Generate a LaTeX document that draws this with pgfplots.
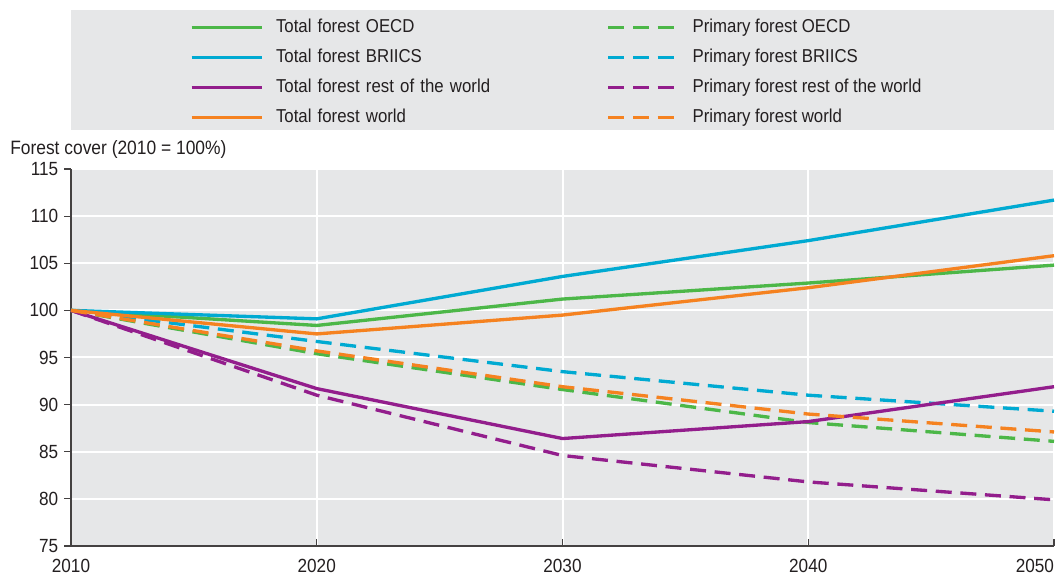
\documentclass[border=0pt]{standalone}
\usepackage{fontspec}
\setmainfont{Liberation Sans}[FakeStretch=0.9]
\usepackage{pgfplots}
\pgfplotsset{compat=1.18}

\definecolor{bgc}{HTML}{E6E7E8}
\definecolor{cgreen}{HTML}{4CB748}
\definecolor{cblue}{HTML}{00AAD2}
\definecolor{cpurple}{HTML}{931E8C}
\definecolor{corange}{HTML}{F58220}
\definecolor{txt}{HTML}{231F20}

\begin{document}
\begin{tikzpicture}[x=1pt,y=1pt]
\begin{axis}[
  scale only axis,
  width=737.25pt, height=282.75pt,
  xmin=2010, xmax=2050, ymin=75, ymax=115,
  xtick={2010,2020,2030,2040,2050},
  ytick={75,80,...,115},
  axis background/.style={fill=bgc},
  axis x line*=bottom, axis y line*=left,
  axis line style={draw=txt!85, line width=1.1pt, -},
  grid=major,
  major grid style={white, line width=1.5pt},
  tick align=inside,
  major tick length=5pt,
  tick style={draw=txt!85, line width=0.9pt},
  ytick style={xshift=-5pt},
  /pgf/number format/assume math mode=true,
  xticklabel={\ifnum\ticknum=4 \makebox[0pt][r]{\pgfmathprintnumber[1000 sep={}]{\tick}}\else\pgfmathprintnumber[1000 sep={}]{\tick}\fi},
  ticklabel style={font=\fontsize{14.3}{16}\selectfont, text=txt},
  yticklabel style={xshift=-6pt},
  xticklabel style={yshift=-6.5pt},
  clip=false,
  legend columns=2,
  legend cell align=left,
  legend image code/.code={\draw[#1] (0pt,0pt) -- (52.5pt,0pt);},
  legend style={draw=none, fill=none, inner sep=0pt, outer sep=0pt,
    at={(0,1)}, anchor=west, xshift=89.25pt, yshift=72.5pt,
    font=\fontsize{14}{16}\selectfont, text=txt,
    row sep=9pt,
    nodes={inner sep=0pt, text height=10.5pt, text depth=3pt},
    /tikz/column 1/.style={column sep=9.5pt},
    /tikz/column 2/.style={text width=248pt},
    /tikz/column 3/.style={column sep=9.5pt}},
  every axis plot/.append style={line width=2.5pt},
]
\fill[bgc] ([yshift=29.25pt]rel axis cs:0,1) rectangle ([yshift=119.25pt]rel axis cs:1,1);
\addplot[cgreen] coordinates {(2010,100) (2020,98.4) (2030,101.2) (2040,102.9) (2050,104.8)};
\addlegendentry{Total forest OECD}
\addplot[cgreen, dash pattern=on 12pt off 6.5pt] coordinates {(2010,100) (2020,95.4) (2030,91.6) (2040,88.1) (2050,86.1)};
\addlegendentry{Primary forest OECD}
\addplot[cblue] coordinates {(2010,100) (2020,99.1) (2030,103.6) (2040,107.4) (2050,111.7)};
\addlegendentry{Total forest BRIICS}
\addplot[cblue, dash pattern=on 12pt off 6.5pt] coordinates {(2010,100) (2020,96.7) (2030,93.5) (2040,91.0) (2050,89.3)};
\addlegendentry{Primary forest BRIICS}
\addplot[cpurple] coordinates {(2010,100) (2020,91.7) (2030,86.4) (2040,88.2) (2050,91.9)};
\addlegendentry{Total forest rest of the world}
\addplot[cpurple, dash pattern=on 12pt off 6.5pt] coordinates {(2010,100) (2020,91.0) (2030,84.6) (2040,81.8) (2050,79.9)};
\addlegendentry{Primary forest rest of the world}
\addplot[corange] coordinates {(2010,100) (2020,97.5) (2030,99.5) (2040,102.4) (2050,105.8)};
\addlegendentry{Total forest world}
\addplot[corange, dash pattern=on 12pt off 6.5pt] coordinates {(2010,100) (2020,95.7) (2030,91.9) (2040,89.0) (2050,87.1)};
\addlegendentry{Primary forest world}
\node[anchor=base west, font=\fontsize{14.5}{16}\selectfont, text=txt, inner sep=0pt]
  at ([xshift=-45.75pt, yshift=11pt]rel axis cs:0,1) {Forest cover (2010 = 100\%)};
\coordinate (bl) at (rel axis cs:0,0);
\coordinate (tr) at (rel axis cs:1,1);
\end{axis}
\pgfresetboundingbox
\path ([xshift=-53.25pt, yshift=-23.25pt]bl) rectangle ([xshift=1.5pt, yshift=126.75pt]tr);
\end{tikzpicture}
\end{document}
